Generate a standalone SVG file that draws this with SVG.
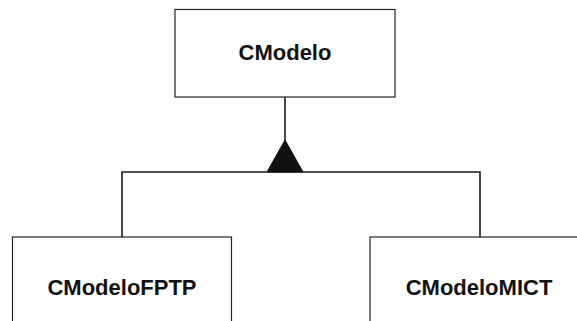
<svg xmlns="http://www.w3.org/2000/svg" width="577" height="321" viewBox="0 0 577 321">
<style>
.box{fill:#fff;stroke:#222;stroke-width:1.2}
.lbl{font-family:"Liberation Sans",Arial,sans-serif;font-weight:bold;font-size:22px;fill:#111;text-anchor:middle}
.conn{fill:none;stroke:#1a1a1a;stroke-width:1.6}
</style>
<rect width="577" height="321" fill="#fff"/>
<g id="connectors">
<path class="conn" d="M285,97 V141"/>
<path class="conn" d="M122,237 V172 H480 V237"/>
<polygon points="285,140 267,172 303,172" fill="#111" stroke="#111" stroke-width="1"/>
</g>
<g id="CModelo">
<rect class="box" x="175" y="9.5" width="220" height="87.5"/>
<text class="lbl" x="285" y="60">CModelo</text>
</g>
<g id="CModeloFPTP">
<rect class="box" x="12.5" y="237" width="219" height="100"/>
<text class="lbl" x="122" y="295">CModeloFPTP</text>
</g>
<g id="CModeloMICT">
<rect class="box" x="370" y="237" width="220" height="100"/>
<text class="lbl" x="479" y="295">CModeloMICT</text>
</g>
</svg>
